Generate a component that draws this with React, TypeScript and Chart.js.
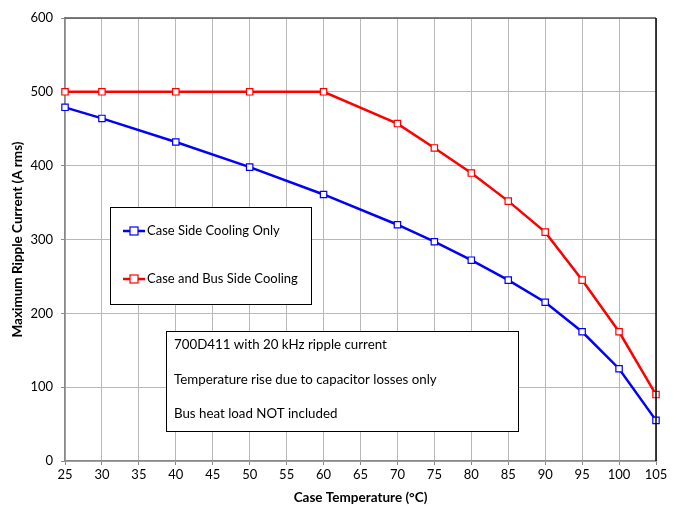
import React, { useEffect, useRef } from "react";
import { Chart, registerables } from "chart.js";

Chart.register(...registerables);

const temperatures = [25, 30, 40, 50, 60, 70, 75, 80, 85, 90, 95, 100, 105];
const caseSideOnly = [479, 464, 432, 398, 361, 320, 297, 272, 245, 215, 175, 125, 55];
const caseAndBus = [500, 500, 500, 500, 500, 457, 424, 390, 352, 310, 245, 175, 90];
const seriesLabels = ["Case Side Cooling Only", "Case and Bus Side Cooling"];
const seriesColors = ["#0000FF", "#FF0000"];
const noteLines = [
  "700D411 with 20 kHz ripple current",
  "Temperature rise due to capacitor losses only",
  "Bus heat load NOT included",
];
const xTitle = "Case Temperature (\u00B0C)";
const yTitle = "Maximum Ripple Current (A rms)";

const FONT = "Lato, 'Open Sans', sans-serif";

const boxesPlugin = {
  id: "boxes",
  beforeDatasetsDraw(chart: any) {
    const { ctx, chartArea } = chart;
    ctx.save();
    // legend box
    const lx = chartArea.left + 45;
    const ly = chartArea.top + 189;
    const lw = 201;
    const lh = 97;
    ctx.fillStyle = "#ffffff";
    ctx.fillRect(lx, ly, lw, lh);
    ctx.strokeStyle = "#000000";
    ctx.lineWidth = 1;
    ctx.strokeRect(lx + 0.5, ly + 0.5, lw, lh);
    ctx.font = `13px ${FONT}`;
    ctx.textBaseline = "middle";
    chart.data.datasets.forEach((ds: any, i: number) => {
      const cy = ly + 24 + i * 48;
      ctx.strokeStyle = ds.borderColor;
      ctx.lineWidth = 2.5;
      ctx.beginPath();
      ctx.moveTo(lx + 13, cy);
      ctx.lineTo(lx + 35, cy);
      ctx.stroke();
      ctx.fillStyle = "#ffffff";
      ctx.lineWidth = 1.2;
      ctx.fillRect(lx + 20, cy - 4, 8, 8);
      ctx.strokeRect(lx + 20, cy - 4, 8, 8);
      ctx.fillStyle = "#000000";
      ctx.textAlign = "left";
      ctx.fillText(ds.label, lx + 37, cy);
    });
    // note box
    const nx = chartArea.left + 101;
    const ny = chartArea.top + 313;
    const nw = 352;
    const nh = 100;
    ctx.fillStyle = "#ffffff";
    ctx.fillRect(nx, ny, nw, nh);
    ctx.strokeStyle = "#000000";
    ctx.lineWidth = 1;
    ctx.strokeRect(nx + 0.5, ny + 0.5, nw, nh);
    ctx.fillStyle = "#000000";
    ctx.font = `13.3px ${FONT}`;
    noteLines.forEach((t, i) => {
      ctx.fillText(t, nx + 8, ny + 14 + i * 34.5);
    });
    ctx.restore();
  },
  afterDraw(chart: any) {
    const { ctx, chartArea } = chart;
    ctx.save();
    ctx.lineWidth = 1.5;
    ctx.strokeStyle = "#555555";
    ctx.beginPath();
    ctx.moveTo(chartArea.left, chartArea.top);
    ctx.lineTo(chartArea.right, chartArea.top);
    ctx.stroke();
    ctx.strokeStyle = "#000000";
    ctx.beginPath();
    ctx.moveTo(chartArea.right, chartArea.top);
    ctx.lineTo(chartArea.right, chartArea.bottom);
    ctx.stroke();
    ctx.restore();
  },
};

export default function App() {
  const ref = useRef<HTMLCanvasElement>(null);
  useEffect(() => {
    document.body.style.margin = "0";
    const mk = (vals: number[], i: number) => ({
      label: seriesLabels[i],
      data: temperatures.map((t, j) => ({ x: t, y: vals[j] })),
      borderColor: seriesColors[i],
      backgroundColor: "#ffffff",
      borderWidth: 2.5,
      pointStyle: "rect",
      pointRadius: 4.5,
      pointBorderWidth: 1.2,
      pointBackgroundColor: "#ffffff",
      pointBorderColor: seriesColors[i],
      tension: 0,
      clip: false,
    });
    const chart = new Chart(ref.current!, {
      type: "line",
      data: { datasets: [mk(caseSideOnly, 0), mk(caseAndBus, 1)] },
      options: {
        animation: false,
        responsive: false,
        layout: { padding: { top: 18, right: 23, left: 0, bottom: 0 } },
        plugins: { legend: { display: false }, tooltip: { enabled: false } },
        scales: {
          x: {
            type: "linear",
            min: 25,
            max: 105,
            ticks: { stepSize: 5, color: "#000", font: { family: FONT, size: 13 }, padding: 2 },
            grid: { color: "#b8b8b8", lineWidth: 1, tickLength: 4, tickColor: "#888" },
            border: { color: "#888888", width: 1.5 },
            title: { display: true, text: xTitle, color: "#000", font: { family: FONT, size: 13.5, weight: "bold" }, padding: { top: 1, bottom: 0 } },
            afterFit: (s: any) => { s.height = 45; },
          },
          y: {
            min: 0,
            max: 600,
            ticks: { stepSize: 100, color: "#000", font: { family: FONT, size: 13 }, padding: 8 },
            grid: { color: "#b8b8b8", lineWidth: 1, tickLength: 4, tickColor: "#888" },
            border: { color: "#888888", width: 1.5 },
            title: { display: true, text: yTitle, color: "#000", font: { family: FONT, size: 13.5, weight: "bold" }, padding: { top: 10, bottom: 4 } },
            afterFit: (s: any) => { s.width = 65; },
          },
        },
      },
      plugins: [boxesPlugin],
    } as any);
    return () => chart.destroy();
  }, []);
  return <canvas ref={ref} width={679} height={506} style={{ display: "block" }} />;
}
